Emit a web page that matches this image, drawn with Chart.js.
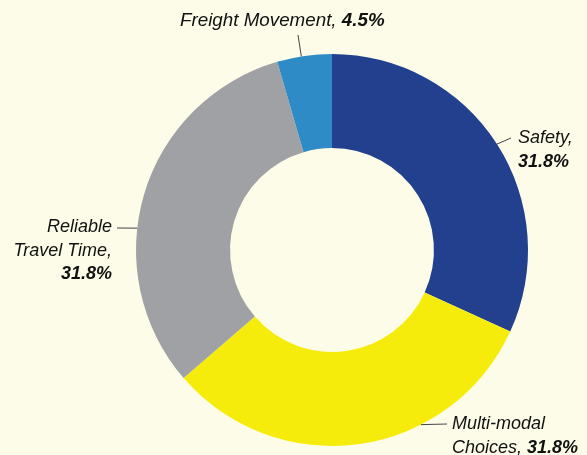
<!DOCTYPE html>
<html>
<head>
<meta charset="utf-8">
<script src="https://cdn.jsdelivr.net/npm/chart.js@4"></script>
<style>
  html, body { margin: 0; padding: 0; background: #FDFCE8; }
  #wrap { width: 587px; height: 455px; position: relative; }
</style>
</head>
<body>
<div id="wrap"><canvas id="c" width="587" height="455"></canvas></div>
<script>
const categories = ["Safety", "Multi-modal Choices", "Reliable Travel Time", "Freight Movement"];
const values = [31.8, 31.8, 31.8, 4.5];
const valueLabels = ["31.8%", "31.8%", "31.8%", "4.5%"];
const colors = ["#22408E", "#F6EC0B", "#A0A1A5", "#2F8BC6"];

// label layout: name lines (italic) + pct (bold italic), leader line
const labelLayout = [
  { lines: [["Safety,", false]], pctLine: [["31.8%", true]], align: "left", x: 518, y: 143, lh: 24, size: 18,
    anchorDeg: 57.3, lineEnd: [511, 138] },
  { lines: [["Multi-modal", false]], pctLine: [["Choices, ", false], ["31.8%", true]], align: "left", x: 452, y: 429, lh: 24, size: 18,
    anchorDeg: 153, lineEnd: [447, 424] },
  { lines: [["Reliable", false], ["Travel Time,", false]], pctLine: [["31.8%", true]], align: "right", x: 112, y: 232, lh: 23.5, size: 18,
    anchorDeg: 276.4, lineEnd: [117, 228] },
  { lines: [], pctLine: [["Freight Movement, ", false], ["4.5%", true]], align: "left", x: 180, y: 26, lh: 24, size: 18.8,
    anchorDeg: 351, lineEnd: [298, 35] }
];

const FONT = "'Liberation Sans', Arial, sans-serif";

const labelPlugin = {
  id: 'labels',
  afterDraw(chart) {
    const ctx = chart.ctx;
    const meta = chart.getDatasetMeta(0);
    const arc0 = meta.data[0];
    const cx = arc0.x, cy = arc0.y, R = arc0.outerRadius;
    ctx.save();
    labelLayout.forEach((L) => {
      const a = L.anchorDeg * Math.PI / 180;
      const sx = cx + R * Math.sin(a), sy = cy - R * Math.cos(a);
      ctx.strokeStyle = "#444444";
      ctx.lineWidth = 1;
      ctx.beginPath();
      ctx.moveTo(sx, sy);
      ctx.lineTo(L.lineEnd[0], L.lineEnd[1]);
      ctx.stroke();
      ctx.fillStyle = "#111111";
      ctx.textBaseline = "alphabetic";
      const allLines = L.lines.map(l => [l]).concat([L.pctLine]);
      allLines.forEach((parts, i) => {
        const y = L.y + i * L.lh;
        let total = 0;
        parts.forEach(p => {
          ctx.font = (p[1] ? "italic bold " : "italic ") + L.size + "px " + FONT;
          total += ctx.measureText(p[0]).width;
        });
        let x = L.align === "right" ? L.x - total : L.x;
        ctx.textAlign = "left";
        parts.forEach(p => {
          ctx.font = (p[1] ? "italic bold " : "italic ") + L.size + "px " + FONT;
          ctx.fillText(p[0], x, y);
          x += ctx.measureText(p[0]).width;
        });
      });
    });
    ctx.restore();
  }
};

new Chart(document.getElementById('c'), {
  type: 'doughnut',
  data: {
    labels: categories,
    datasets: [{
      data: values,
      backgroundColor: colors,
      borderWidth: 0,
      hoverOffset: 0
    }]
  },
  options: {
    responsive: false,
    animation: false,
    cutout: '52%',
    layout: { padding: { top: 54, bottom: 9, left: 136, right: 59 } },
    plugins: { legend: { display: false }, tooltip: { enabled: false } }
  },
  plugins: [labelPlugin]
});
</script>
</body>
</html>
